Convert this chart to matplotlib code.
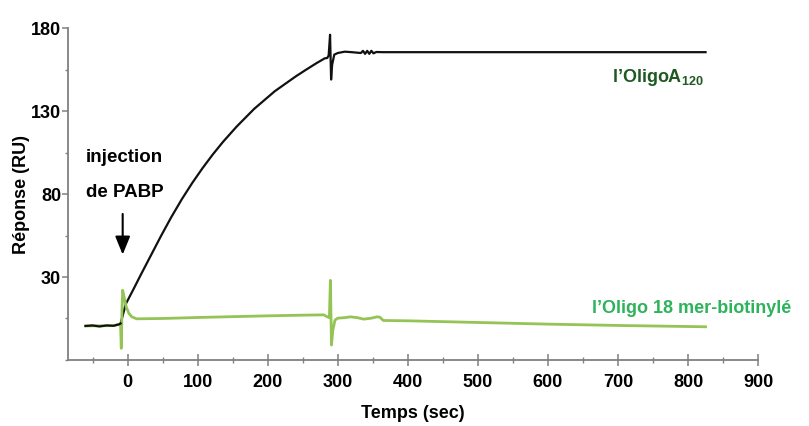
import matplotlib
matplotlib.use("Agg")
import matplotlib.pyplot as plt
from matplotlib.ticker import MultipleLocator, FixedLocator

plt.rcParams['font.family'] = ['Liberation Sans', 'DejaVu Sans']
plt.rcParams['mathtext.fontset'] = 'custom'
plt.rcParams['mathtext.rm'] = 'Liberation Sans:bold'
plt.rcParams['mathtext.bf'] = 'Liberation Sans:bold'

# OligoA120 response (black)
t_black = [-60, -50, -40, -30, -20, -12, -10, -2.5, 8, 18.2, 33, 47.8, 62, 77.3,
           92, 106.8, 121.5, 136.3, 156, 180.6, 210.2, 239.7, 255, 269.3, 281.5,
           285, 287, 289, 290.5, 292, 295, 300, 310, 320, 333,
           336, 339, 342, 345, 348, 351, 355, 365, 400, 500, 600, 700, 825]
y_black = [0.5, 0.8, 0.2, 0.8, 0.6, 1.5, 2, 13.8, 22.3, 30.8, 42.8, 54.8, 65.8, 76.8,
           86.5, 95.5, 103.8, 111.5, 120.8, 131.3, 142, 150.8, 155, 158.8, 161.8,
           162, 163.5, 176, 149, 158, 164, 165, 165.8, 165.5, 165,
           166.3, 164.5, 166.3, 164.5, 166.3, 164.8, 165.6, 165.5, 165.5, 165.5, 165.5, 165.5, 165.5]

# Oligo 18 mer-biotinylé response (green)
t_green = [-60, -40, -20, -12, -10, -9, -8, -7, -5, -2, 2, 6, 13, 50, 100, 150,
           200, 250, 280, 285, 288, 289.5, 291, 293, 296, 300, 310, 318, 328, 337,
           348, 356, 360, 365, 400, 500, 600, 700, 825]
y_green = [0.5, 0.6, 0.7, 1.5, 1, -13, 10, 22, 18, 12, 8, 6, 4.8, 5, 5.6, 6.1,
           6.6, 7, 7.2, 6, 5.5, 28, -11, -2, 4, 5.2, 5.5, 6, 5.5, 4.6,
           5.2, 6, 5.8, 3.8, 3.6, 2.6, 1.6, 0.8, 0]

x_ticks = [0, 100, 200, 300, 400, 500, 600, 700, 800, 900]
y_ticks = [30, 80, 130, 180]

fig = plt.figure(figsize=(8.09, 4.26), dpi=100)
ax = fig.add_axes([0.0841, 0.155, 0.853, 0.779])

ax.plot(t_green, y_green, color='#94c455', lw=2.0, zorder=3)
ax.plot(t_black[:7], y_black[:7], color='#111111', lw=1.6, zorder=4)
ax.plot(t_black[6:], y_black[6:], color='#111111', lw=1.6, zorder=2)

ax.set_xlim(-85, 900)
ax.set_ylim(-20, 180)

for s in ['top', 'right']:
    ax.spines[s].set_visible(False)
for s in ['left', 'bottom']:
    ax.spines[s].set_color('#808080')
    ax.spines[s].set_linewidth(1.3)

ax.xaxis.set_major_locator(FixedLocator(x_ticks))
ax.xaxis.set_minor_locator(MultipleLocator(50))
ax.yaxis.set_major_locator(FixedLocator(y_ticks))
ax.yaxis.set_minor_locator(FixedLocator([-20, 5, 55, 105, 155]))

ax.tick_params(axis='x', which='major', direction='inout', length=8, width=1.1,
               color='#808080', pad=6, labelsize=13)
ax.tick_params(axis='x', which='minor', direction='inout', length=5, width=1.0,
               color='#808080')
ax.tick_params(axis='y', which='major', direction='out', length=4, width=1.1,
               color='#808080', pad=1, labelsize=13)
ax.tick_params(axis='y', which='minor', direction='out', length=2.5, width=1.0,
               color='#808080')
for lab in ax.get_xticklabels() + ax.get_yticklabels():
    lab.set_fontweight('bold')

ax.set_xlabel('Temps (sec)', fontsize=13, fontweight='bold', labelpad=10)
ax.set_ylabel('Réponse (RU)', fontsize=13, fontweight='bold', labelpad=1)

ax.text(-60, 102, 'injection', fontsize=13.5, fontweight='bold', ha='left', va='center')
ax.text(-60, 81, 'de PABP', fontsize=13.5, fontweight='bold', ha='left', va='center')
ax.annotate('', xy=(-7, 43.5), xytext=(-7, 68),
            arrowprops=dict(arrowstyle='-|>,head_width=0.45,head_length=1.1',
                            color='black', lw=1.5, shrinkA=0, shrinkB=0))

ax.text(822, 150.5, r"l’OligoA$_{120}$", fontsize=13, fontweight='bold',
        color='#1f5a22', ha='right', va='center')
ax.text(663, 11, "l’Oligo 18 mer-biotinylé", fontsize=13, fontweight='bold',
        color='#2db35a', ha='left', va='center', clip_on=False)

fig.savefig('out.png', dpi=100)
